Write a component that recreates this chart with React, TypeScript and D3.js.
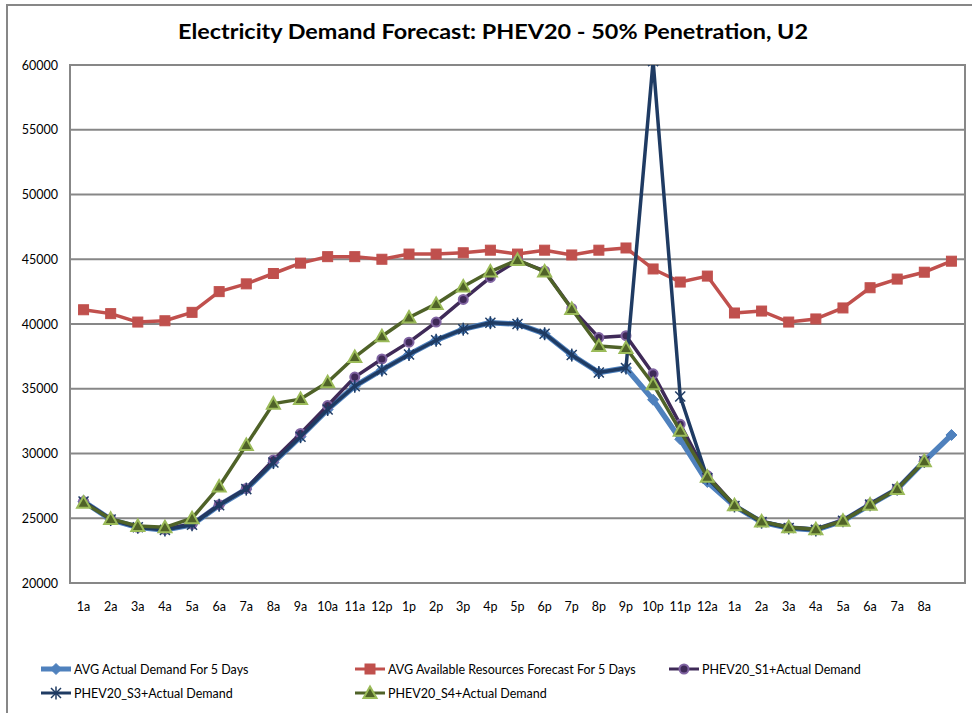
import React from "react";
import * as d3 from "d3";

const categories = ["1a","2a","3a","4a","5a","6a","7a","8a","9a","10a","11a","12p","1p","2p","3p","4p","5p","6p","7p","8p","9p","10p","11p","12a","1a","2a","3a","4a","5a","6a","7a","8a",""];

const actualDemand = [26300,24900,24300,24100,24500,26000,27250,29300,31300,33400,35200,36450,37650,38750,39600,40100,40000,39250,37600,36250,36600,34150,31100,27800,25950,24700,24250,24100,24800,26050,27250,29400,31430];
const availableResources = [41100,40800,40150,40250,40900,42500,43100,43900,44700,45200,45200,45000,45400,45400,45500,45700,45400,45700,45330,45700,45870,44250,43240,43700,40850,41000,40150,40390,41240,42800,43470,44000,44850];
const s1Demand = [26300,24950,24300,24150,24550,26050,27300,29500,31550,33700,35900,37300,38600,40150,41900,43600,44900,44100,41200,38950,39100,36150,32250,28300,26000,24750,24300,24150,24850,26100,27300,29450,null];
const s3Demand = [26300,24900,24300,24100,24500,26000,27250,29300,31300,33400,35200,36450,37650,38750,39600,40100,40000,39250,37600,36250,36600,60300,34400,28100,25950,24700,24250,24100,24800,26050,27250,29400,null];
const s4Demand = [26200,24950,24400,24300,25000,27450,30660,33850,34200,35500,37450,39050,40500,41550,42900,44050,44950,44050,41160,38300,38150,35350,31750,28200,26000,24750,24300,24150,24800,26050,27250,29400,null];
const yTicks = [20000,25000,30000,35000,40000,45000,50000,55000,60000];

const title = "Electricity Demand Forecast: PHEV20 - 50% Penetration, U2";
const FONT = "Lato, 'Open Sans', sans-serif";

type Marker = "diamond" | "square" | "circle" | "star" | "triangle";
interface Series { name: string; values: (number | null)[]; color: string; width: number; marker: Marker; fill: string; stroke: string; }

const seriesList: Series[] = [
  { name: "AVG Actual Demand For 5 Days", values: actualDemand, color: "#4F81BD", width: 5.5, marker: "diamond", fill: "#4F81BD", stroke: "#4F81BD" },
  { name: "AVG Available Resources Forecast For 5 Days", values: availableResources, color: "#C0504D", width: 3.5, marker: "square", fill: "#C0504D", stroke: "#C0504D" },
  { name: "PHEV20_S1+Actual Demand", values: s1Demand, color: "#3F2A58", width: 3.5, marker: "circle", fill: "#3F2A58", stroke: "#8064A2" },
  { name: "PHEV20_S3+Actual Demand", values: s3Demand, color: "#1F3B63", width: 3.5, marker: "star", fill: "none", stroke: "#1F3B63" },
  { name: "PHEV20_S4+Actual Demand", values: s4Demand, color: "#4F6228", width: 3.5, marker: "triangle", fill: "#4F6228", stroke: "#9BBB59" },
];

function MarkerShape({ type, x, y, fill, stroke }: { type: Marker; x: number; y: number; fill: string; stroke: string }) {
  switch (type) {
    case "diamond":
      return <path d={`M${x},${y - 5.5}L${x + 5.5},${y}L${x},${y + 5.5}L${x - 5.5},${y}Z`} fill={fill} stroke={stroke} strokeWidth={1} />;
    case "square":
      return <rect x={x - 5} y={y - 5} width={10} height={10} fill={fill} stroke={stroke} strokeWidth={1} />;
    case "circle":
      return <circle cx={x} cy={y} r={4.5} fill={fill} stroke={stroke} strokeWidth={2} />;
    case "star":
      return (
        <g stroke={stroke} strokeWidth={1.5}>
          <line x1={x - 5} y1={y - 5} x2={x + 5} y2={y + 5} />
          <line x1={x - 5} y1={y + 5} x2={x + 5} y2={y - 5} />
          <line x1={x} y1={y - 6.5} x2={x} y2={y + 6.5} />
        </g>
      );
    case "triangle":
      return <path d={`M${x},${y - 6.5}L${x + 6.5},${y + 5}L${x - 6.5},${y + 5}Z`} fill={fill} stroke={stroke} strokeWidth={2} />;
  }
}

export default function App() {
  const W = 972, H = 713;
  const left = 70, right = 965, top = 65, bottom = 583;
  const x = d3.scaleBand<number>().domain(d3.range(categories.length)).range([left, right]);
  const cx = (i: number) => (x(i) as number) + x.bandwidth() / 2;
  const y = d3.scaleLinear().domain([20000, 60000]).range([bottom, top]);
  const line = d3.line<number | null>()
    .defined((d) => d !== null)
    .x((_, i) => cx(i))
    .y((d) => y(d as number));

  const legendItems = [
    { s: seriesList[0], lx: 41, ly: 669 },
    { s: seriesList[1], lx: 355, ly: 669 },
    { s: seriesList[2], lx: 669, ly: 669 },
    { s: seriesList[3], lx: 41, ly: 693 },
    { s: seriesList[4], lx: 355, ly: 693 },
  ];

  return (
    <svg width={W} height={H} style={{ position: "absolute", left: 0, top: 0, background: "#fff" }} fontFamily={FONT}>
      <rect x={0} y={0} width={W} height={H} fill="#fff" />
      <rect x={7} y={5} width={990} height={730} fill="none" stroke="#878787" strokeWidth={2} />
      <defs>
        <clipPath id="plotClip">
          <rect x={left} y={top} width={right - left} height={bottom - top} />
        </clipPath>
      </defs>
      <text x={493} y={39} textAnchor="middle" fontSize={21} fontWeight="bold" fill="#000" textLength={630} lengthAdjust="spacingAndGlyphs">{title}</text>
      {yTicks.map((t) => (
        <g key={t}>
          <line x1={left} x2={right} y1={y(t)} y2={y(t)} stroke="#878787" strokeWidth={2} />
          <text x={58} y={y(t) + 4.5} textAnchor="end" fontSize={12.5} fill="#000">{t}</text>
        </g>
      ))}
      <rect x={left} y={top} width={right - left} height={bottom - top} fill="none" stroke="#878787" strokeWidth={2} />
      {categories.map((c, i) => (
        <text key={i} x={cx(i)} y={611} textAnchor="middle" fontSize={12.5} fill="#000">{c}</text>
      ))}
      <g clipPath="url(#plotClip)">
        {seriesList.map((s) => (
          <g key={s.name}>
            <path d={line(s.values) || ""} fill="none" stroke={s.color} strokeWidth={s.width} strokeLinejoin="round" />
            {s.values.map((v, i) => v === null ? null : (
              <MarkerShape key={i} type={s.marker} x={cx(i)} y={y(v)} fill={s.fill} stroke={s.stroke} />
            ))}
          </g>
        ))}
      </g>
      {legendItems.map(({ s, lx, ly }) => (
        <g key={s.name}>
          <line x1={lx} x2={lx + 30} y1={ly} y2={ly} stroke={s.color} strokeWidth={s.width - 0.5} />
          <MarkerShape type={s.marker} x={lx + 15} y={ly} fill={s.fill} stroke={s.stroke} />
          <text x={lx + 33} y={ly + 4.5} fontSize={12.5} fill="#000">{s.name}</text>
        </g>
      ))}
    </svg>
  );
}
